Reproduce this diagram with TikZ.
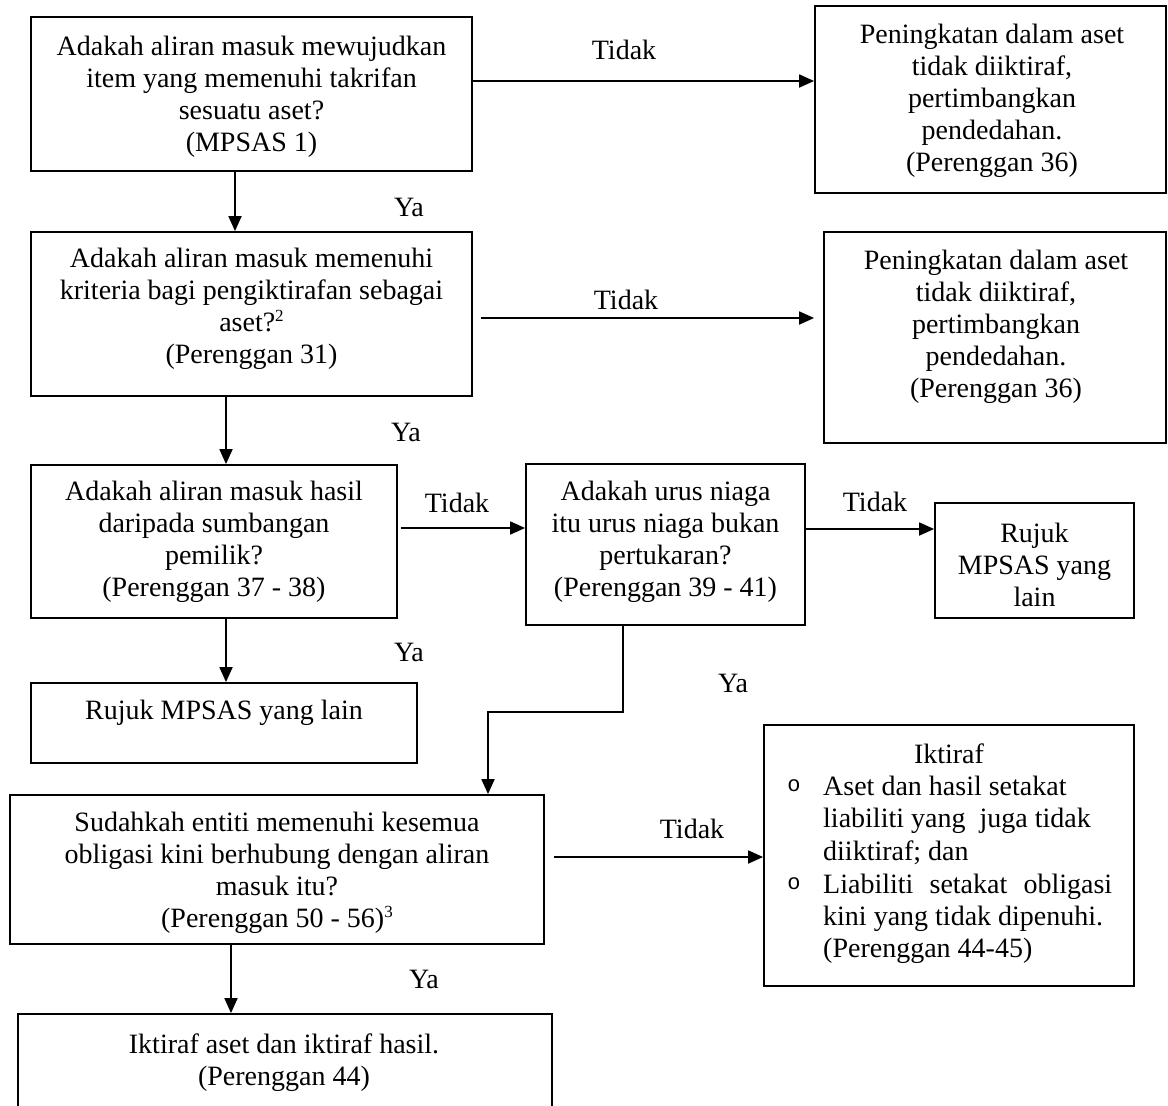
\documentclass[tikz,border=0pt]{standalone}
\usepackage{fontspec}
\setmainfont{Liberation Serif}
\newfontfamily\monof{Liberation Mono}
\usetikzlibrary{arrows.meta}
\newcommand{\supnum}[1]{\raisebox{10pt}{\fontsize{17}{17}\selectfont #1}}
\tikzset{
  box/.style={draw, line width=1.8pt, rectangle, inner sep=0pt},
  txt/.style={font=\fontsize{28}{32}\selectfont, align=center, inner sep=0pt},
  lbl/.style={font=\fontsize{28}{32}\selectfont, inner sep=0pt},
  lst/.style={font=\fontsize{28}{32}\selectfont, inner sep=0pt, anchor=base west},
  bul/.style={font=\monof\fontsize{22}{24}\selectfont, inner sep=0pt, anchor=base},
  arr/.style={line width=1.8pt, -{Triangle[length=15pt,width=13pt]}},
  ln/.style={line width=1.8pt}
}
\begin{document}
\begin{tikzpicture}[x=1pt,y=-1pt]
\useasboundingbox (0,0) rectangle (1168,1106);
\clip (0,0) rectangle (1168,1106);

% boxes
\node[box, minimum width=441pt, minimum height=154pt] (b1) at (251.5,94) {};
\node[box, minimum width=351pt, minimum height=187pt] (r1) at (990.5,99.5) {};
\node[box, minimum width=441pt, minimum height=164pt] (b2) at (251.5,314) {};
\node[box, minimum width=342pt, minimum height=211pt] (r2) at (995,337.5) {};
\node[box, minimum width=366pt, minimum height=153pt] (b3) at (214,541.5) {};
\node[box, minimum width=279pt, minimum height=161pt] (b4) at (665.5,544.5) {};
\node[box, minimum width=199pt, minimum height=115pt] (b5) at (1034.5,560.5) {};
\node[box, minimum width=386pt, minimum height=80pt] (b6) at (224,723) {};
\node[box, minimum width=534pt, minimum height=149pt] (b7) at (277,869.5) {};
\node[box, minimum width=370pt, minimum height=261pt] (b8) at (949,855.5) {};
\node[box, minimum width=534pt, minimum height=106pt] (b9) at (285,1067) {};

% texts
\node[txt] (t1) at (251.5,96.5) {Adakah aliran masuk mewujudkan\\item yang memenuhi takrifan\\sesuatu aset?\\(MPSAS 1)};
\node[txt] (tr1) at (992,101) {Peningkatan dalam aset\\tidak diiktiraf,\\pertimbangkan\\pendedahan.\\(Perenggan 36)};
\node[txt] (t2) at (251.5,309) {Adakah aliran masuk memenuhi\\kriteria bagi pengiktirafan sebagai\\aset?\supnum{2}\\(Perenggan 31)};
\node[txt] (tr2) at (996,326.5) {Peningkatan dalam aset\\tidak diiktiraf,\\pertimbangkan\\pendedahan.\\(Perenggan 36)};
\node[txt] (t3) at (214,542) {Adakah aliran masuk hasil\\daripada sumbangan\\pemilik?\\(Perenggan 37 - 38)};
\node[txt] (t4) at (665.5,542) {Adakah urus niaga\\itu urus niaga bukan\\pertukaran?\\(Perenggan 39 - 41)};
\node[txt] (t5) at (1034.5,564.5) {Rujuk\\MPSAS yang\\lain};
\node[txt] (t6) at (224,713) {Rujuk MPSAS yang lain};
\node[txt] (t7) at (277,873) {Sudahkah entiti memenuhi kesemua\\obligasi kini berhubung dengan aliran\\masuk itu?\\(Perenggan 50 - 56)\supnum{3}};
\node[txt] (t9) at (284,1063) {Iktiraf aset dan iktiraf hasil.\\(Perenggan 44)};

% box 8 contents
\node[lbl, anchor=base] (t8h) at (949,763) {Iktiraf};
\node[bul] (o1) at (794,791) {o};
\node[lst] (l1) at (823,795) {Aset dan hasil setakat};
\node[lst] (l2) at (823,827) {liabiliti yang\ \ juga tidak};
\node[lst] (l3) at (823,860) {diiktiraf; dan};
\node[bul] (o2) at (794,889) {o};
\node[lst] (l4) at (823,893) {\makebox[289pt][s]{Liabiliti setakat obligasi}};
\node[lst] (l5) at (823,925) {kini yang tidak dipenuhi.};
\node[lst] (l6) at (823,957) {(Perenggan 44-45)};

% helper coordinates
\coordinate (e1) at (623,712);
\coordinate (e2) at (488,712);

% connectors
\draw[arr] (b1.east |- 0,81) -- (r1.west |- 0,81);
\draw[arr] ([xshift=8pt]b2.east |- 0,318) -- ([xshift=-9pt]r2.west |- 0,318);
\draw[arr] (b1.south -| 235,0) -- (b2.north -| 235,0);
\draw[arr] (b2.south -| 226,0) -- (b3.north -| 226,0);
\draw[arr] ([xshift=3pt]b3.east |- 0,528) -- (b4.west |- 0,528);
\draw[arr] (b4.east |- 0,529) -- (b5.west |- 0,529);
\draw[arr] (b3.south -| 226,0) -- (b6.north -| 226,0);
\draw[arr] (b4.south -| e1) -- (e1) -- (e2) -- (b7.north -| e2);
\draw[arr] ([xshift=9pt]b7.east |- 0,857) -- (b8.west |- 0,857);
\draw[arr] (b7.south -| 231,0) -- (b9.north -| 231,0);

% labels
\node[lbl] (n1) at (624,50) {Tidak};
\node[lbl] (n2) at (626,300) {Tidak};
\node[lbl] (y1) at (409,207) {Ya};
\node[lbl] (y2) at (406,432) {Ya};
\node[lbl] (n3) at (457,503) {Tidak};
\node[lbl] (n4) at (875,502) {Tidak};
\node[lbl] (y3) at (409,652) {Ya};
\node[lbl] (y4) at (733,683) {Ya};
\node[lbl] (n5) at (692,829) {Tidak};
\node[lbl] (y5) at (424,979) {Ya};
\end{tikzpicture}
\end{document}
